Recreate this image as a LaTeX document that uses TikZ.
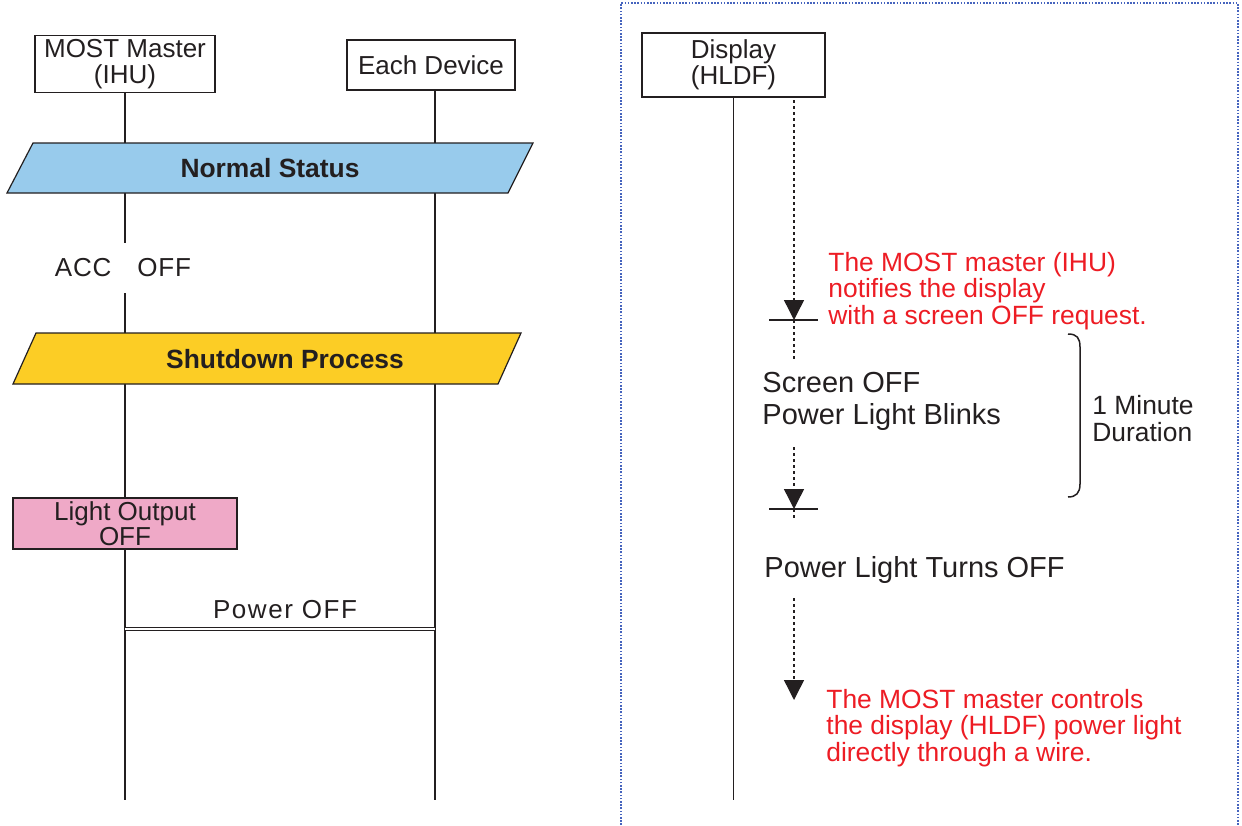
\documentclass[tikz,border=0pt]{standalone}
\usepackage{fontspec}
\setmainfont{Liberation Sans}
\usetikzlibrary{arrows.meta}
\definecolor{ink}{RGB}{35,31,32}
\definecolor{redtxt}{RGB}{237,28,36}
\definecolor{nblue}{RGB}{152,203,236}
\definecolor{syellow}{RGB}{252,205,37}
\definecolor{lpink}{RGB}{239,169,199}
\definecolor{bord}{RGB}{70,100,190}
\begin{document}
\begin{tikzpicture}[x=0.5pt,y=-0.5pt,
 hdr/.style={draw=ink, line width=0.75pt, fill=white, inner sep=0, align=center, text=ink, font=\fontsize{13}{13}\selectfont},
 life/.style={draw=ink, line width=0.75pt},
 band/.style={draw=ink, line width=0.6pt},
 bandtxt/.style={font=\bfseries\fontsize{13.2}{14}\selectfont, text=ink, inner sep=0},
 lbl/.style={text=ink, inner sep=0, font=\fontsize{13}{13}\selectfont},
 rlbl/.style={text=ink, inner sep=0, anchor=west, align=left, font=\fontsize{14.5}{16}\selectfont},
 note/.style={text=redtxt, inner sep=0, anchor=west, align=left, font=\fontsize{13.2}{13.25}\selectfont},
 dots/.style={draw=ink, line width=0.7pt, dash pattern=on 1.5pt off 1.5pt},
 tip/.style={-{Triangle[width=10pt,length=10pt]}},
 tick/.style={draw=ink, line width=0.6pt}]
\useasboundingbox (0,0) rectangle (1242,825);

% ---------- left diagram ----------
\node[hdr, minimum width=90pt, minimum height=28.5pt] (ihu) at (125,64) {MOST Master\\(IHU)};
\node[hdr, minimum width=84pt, minimum height=25pt] (dev) at (431,65) {Each Device};

\coordinate (ihuAccTop) at (125,243);
\coordinate (ihuAccBot) at (125,293);
\coordinate (ihuEnd) at (125,800);
\coordinate (devEnd) at (435,800);
\draw[life] (ihu.south) -- (ihuAccTop);
\draw[life] (ihuAccBot) -- (ihuEnd);
\draw[life] (dev.south -| devEnd) -- (devEnd);

\draw[band, fill=nblue] (33,143) -- (533,143) -- (508,193) -- (7,193) -- cycle;
\node[bandtxt] (normal) at (270,168) {Normal Status};

\node[lbl] (acc) at (123,268) {\addfontfeature{LetterSpace=3}ACC\hspace{13pt}OFF};

\draw[band, fill=syellow] (36,333) -- (521,333) -- (498,384) -- (13,384) -- cycle;
\node[bandtxt] (shut) at (285,359) {Shutdown Process};

\node[hdr, fill=lpink, minimum width=112pt, minimum height=25.5pt, font=\fontsize{13}{11}\selectfont] (light) at (125,523.5) {Light Output\\OFF};

\node[lbl] (pwtxt) at (285,610) {\addfontfeature{LetterSpace=6}Power OFF};
\coordinate (pwA) at (125,629);
\coordinate (pwB) at (435,629);
\draw[draw=ink, line width=0.6pt, double=white, double distance=1.2pt] (pwA) -- (pwB);

% ---------- right diagram ----------
\draw[bord, line width=1pt, dash pattern=on 0.8pt off 0.8pt] (621,825) -- (621,3) -- (1238,3) -- (1238,825);

\node[hdr, minimum width=91.5pt, minimum height=32pt] (disp) at (733.5,65) {Display\\(HLDF)};
\coordinate (dispEnd) at (733.5,800);
\draw[life] (disp.south) -- (dispEnd);

\coordinate (s1) at (794,100);
\coordinate (t1) at (794,320);
\coordinate (t1L) at (769,320);
\coordinate (t1R) at (818,320);
\coordinate (e1) at (794,360);
\draw[dots, tip] (s1) -- (t1);
\draw[tick] (t1L) -- (t1R);
\draw[dots] (t1) -- (e1);

\coordinate (s2) at (794,447);
\coordinate (t2) at (794,509);
\coordinate (t2L) at (769,509);
\coordinate (t2R) at (818,509);
\coordinate (e2) at (794,520);
\draw[dots, tip] (s2) -- (t2);
\draw[tick] (t2L) -- (t2R);
\draw[dots] (t2) -- (e2);

\coordinate (s3) at (794,598);
\coordinate (t3) at (794,700);
\draw[dots, tip] (s3) -- (t3);

\node[note] (n1) at (828,291) {The MOST master (IHU)\\notifies the display\\with a screen OFF request.};
\node[rlbl] (blink) at (762,401) {Screen OFF\\Power Light Blinks};
\node[rlbl] (turnoff) at (764,570) {Power Light Turns OFF};
\node[note] (n2) at (826,728) {The MOST master controls\\the display (HLDF) power light\\directly through a wire.};

\draw[draw=ink, line width=0.75pt] (1068,334) .. controls (1077,334) and (1080,338) .. (1080,347) -- (1080,484) .. controls (1080,493) and (1076,497) .. (1068,497);
\node[text=ink, inner sep=0, anchor=west, align=left, font=\fontsize{13.2}{13.5}\selectfont] (dur) at (1092,418.5) {1 Minute\\Duration};
\end{tikzpicture}
\end{document}
